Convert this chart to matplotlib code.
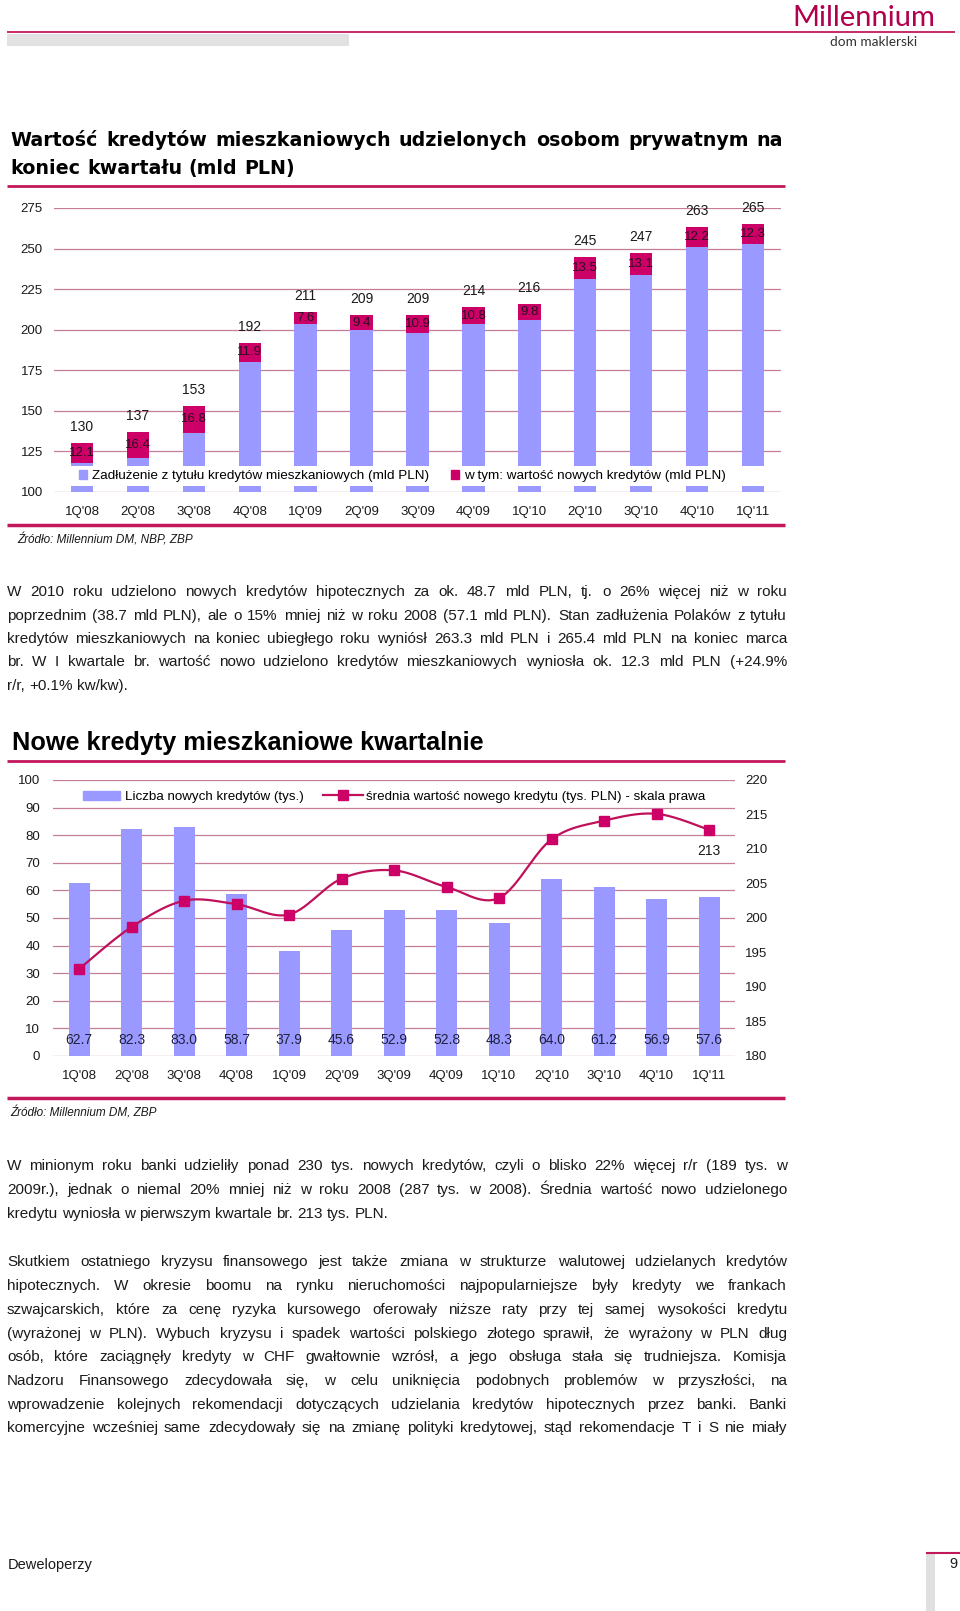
import matplotlib
matplotlib.use("Agg")
import matplotlib.pyplot as plt
import numpy as np
from matplotlib.patches import Rectangle, Patch
from matplotlib.lines import Line2D

# ---------------- data ----------------
quarters = ["1Q'08", "2Q'08", "3Q'08", "4Q'08", "1Q'09", "2Q'09", "3Q'09",
            "4Q'09", "1Q'10", "2Q'10", "3Q'10", "4Q'10", "1Q'11"]
debt_total = [130, 137, 153, 192, 211, 209, 209, 214, 216, 245, 247, 263, 265]
new_value = [12.1, 16.4, 16.8, 11.9, 7.6, 9.4, 10.9, 10.8, 9.8, 13.5, 13.1, 12.2, 12.3]
loan_count = [62.7, 82.3, 83.0, 58.7, 37.9, 45.6, 52.9, 52.8, 48.3, 64.0, 61.2, 56.9, 57.6]
avg_value = [192.6, 198.7, 202.5, 202.0, 200.5, 205.7, 206.9, 204.5, 202.9,
             211.4, 214.1, 215.1, 212.8]
top_yticks = [100, 125, 150, 175, 200, 225, 250, 275]
left_yticks = [0, 10, 20, 30, 40, 50, 60, 70, 80, 90, 100]
right_yticks = [180, 185, 190, 195, 200, 205, 210, 215, 220]

# ---------------- style ----------------
FONT = "Liberation Sans"
PURPLE = "#9999ff"
MAGENTA = "#cc0066"
LINECOL = "#c0105a"
GRID = "#c77c9a"
RULE = "#c2185b"
TXT = "#1a1a1a"

W, H = 960, 1611
def fx(x): return x / W
def fy(y): return 1 - y / H

fig = plt.figure(figsize=(9.6, 16.11), dpi=100)
fig.patch.set_facecolor("white")
renderer = fig.canvas.get_renderer()

def hline(x0, x1, y, color=RULE, lw=1.5):
    fig.add_artist(Line2D([fx(x0), fx(x1)], [fy(y), fy(y)],
                          transform=fig.transFigure, color=color, lw=lw,
                          solid_capstyle="butt"))

def put_line(text, y, x0, x1=None, justify=True, **kw):
    # y is the visual centre of capitals; convert to an integer-pixel baseline
    fs_px = kw.get("fontsize", 10) * 100 / 72
    yb = float(round(y + 0.36 * fs_px))
    words = text.split(" ")
    arts = [fig.text(0, fy(yb), w, va="baseline", ha="left", **kw) for w in words]
    widths = [a.get_window_extent(renderer).width for a in arts]
    if justify and len(words) > 1 and x1 is not None:
        gap = (x1 - x0 - sum(widths)) / (len(words) - 1)
    else:
        t1 = fig.text(0, 0, "a a", **kw)
        t2 = fig.text(0, 0, "aa", **kw)
        gap = t1.get_window_extent(renderer).width - t2.get_window_extent(renderer).width
        t1.remove(); t2.remove()
    x = x0
    for a, w in zip(arts, widths):
        a.set_x(fx(round(x)))
        x += w + gap

# ---------------- header ----------------
hline(7, 955, 32, lw=1.3)
fig.add_artist(Rectangle((fx(7), fy(46)), fx(349) - fx(7), fy(34) - fy(46),
                         transform=fig.transFigure, color="#e2e2e2", lw=0))
fig.text(fx(864), fy(18), "Millennium", ha="center", va="center",
         fontsize=21, color="#b0004e", family="Lato")
fig.text(fx(874), fy(42), "dom maklerski", ha="center", va="center",
         fontsize=9.8, color="#333333", family="Lato")

# ---------------- title 1 ----------------
tkw = dict(fontsize=13.7, fontweight="bold", family="DejaVu Sans", color="black")
put_line("Wartość kredytów mieszkaniowych udzielonych osobom prywatnym na",
         139, 10, 783, **tkw)
put_line("koniec kwartału (mld PLN)", 167, 10, justify=False, **tkw)
hline(7, 785, 186, lw=2)

# ---------------- chart 1 ----------------
ax1 = fig.add_axes([fx(54), fy(491.7), fx(781) - fx(54), fy(208) - fy(491.7)])
x = np.arange(len(quarters))
base = [t - n for t, n in zip(debt_total, new_value)]
ax1.bar(x, base, width=0.4, color=PURPLE, zorder=2)
ax1.bar(x, new_value, bottom=base, width=0.4, color=MAGENTA, zorder=2)
ax1.set_xlim(-0.5, len(quarters) - 0.5)
ax1.set_ylim(100, 275)
ax1.set_yticks(top_yticks)
ax1.set_xticks(x)
ax1.set_xticklabels(quarters)
ax1.grid(axis="y", color=GRID, lw=0.9, zorder=0)
ax1.set_axisbelow(True)
for s in ax1.spines.values():
    s.set_visible(False)
ax1.tick_params(axis="both", length=0, labelsize=9.5, colors=TXT)
ax1.tick_params(axis="y", pad=8)
ax1.tick_params(axis="x", pad=10)
for lab in ax1.get_xticklabels() + ax1.get_yticklabels():
    lab.set_family(FONT)
for xi, t, b, n in zip(x, debt_total, base, new_value):
    ax1.annotate(f"{t}", (xi, t), xytext=(0, 11.5), textcoords="offset points",
                 ha="center", va="center", fontsize=10, family=FONT, color=TXT)
    ax1.text(xi, b + n / 2, f"{n:.1f}", ha="center", va="center",
             fontsize=9.5, family=FONT, color="#2a1020", zorder=4)
ax1.add_patch(Rectangle((0, 0.02), 1, 0.0706, transform=ax1.transAxes,
                        color="white", lw=0, zorder=3))
leg_a = ax1.legend(handles=[Patch(color=PURPLE, label="Zadłużenie z tytułu kredytów mieszkaniowych (mld PLN)")],
                   loc="center left", bbox_to_anchor=((79 - 54) / 727, 0.055),
                   frameon=False, borderpad=0, borderaxespad=0,
                   handlelength=0.6, handleheight=0.6, handletextpad=0.35,
                   prop=dict(family=FONT, size=9.7))
ax1.add_artist(leg_a)
ax1.legend(handles=[Patch(color=MAGENTA, label="w tym: wartość nowych kredytów (mld PLN)")],
           loc="center left", bbox_to_anchor=((451 - 54) / 727, 0.055),
           frameon=False, borderpad=0, borderaxespad=0,
           handlelength=0.6, handleheight=0.6, handletextpad=0.35,
           prop=dict(family=FONT, size=9.7))

hline(7, 785, 525, lw=2.5)
fig.text(fx(17), fy(540), "Źródło: Millennium DM, NBP, ZBP", ha="left", va="center",
         fontsize=8.5, style="italic", family=FONT, color=TXT)

# ---------------- paragraph 1 ----------------
pkw = dict(fontsize=11, family=FONT, color=TXT)
p1 = ["W 2010 roku udzielono nowych kredytów hipotecznych za ok. 48.7 mld PLN, tj. o 26% więcej niż w roku",
      "poprzednim (38.7 mld PLN), ale o 15% mniej niż w roku 2008 (57.1 mld PLN). Stan zadłużenia Polaków z tytułu",
      "kredytów mieszkaniowych na koniec ubiegłego roku wyniósł 263.3 mld PLN i 265.4 mld PLN na koniec marca",
      "br. W I kwartale br. wartość nowo udzielono kredytów mieszkaniowych wyniosła ok. 12.3 mld PLN (+24.9%",
      "r/r, +0.1% kw/kw)."]
for i, line in enumerate(p1):
    last = i == len(p1) - 1
    put_line(line, 590.7 + i * 23.4, 7, 787, justify=not last, **pkw)

# ---------------- title 2 ----------------
fig.text(fx(12), fy(743), "Nowe kredyty mieszkaniowe kwartalnie", ha="left", va="center",
         fontsize=18.2, fontweight="bold", family=FONT, color="black")
hline(7, 785, 761, lw=2)

# ---------------- chart 2 ----------------
ax2 = fig.add_axes([fx(52.75), fy(1056), fx(735.25) - fx(52.75), fy(780) - fy(1056)])
ax2.bar(x, loan_count, width=0.4, color=PURPLE, zorder=2)
ax2.set_xlim(-0.5, len(quarters) - 0.5)
ax2.set_ylim(0, 100)
ax2.set_yticks(left_yticks)
ax2.set_xticks(x)
ax2.set_xticklabels(quarters)
ax2.grid(axis="y", color=GRID, lw=0.9, zorder=0)
ax2.set_axisbelow(True)
for s in ax2.spines.values():
    s.set_visible(False)
ax2.tick_params(axis="both", length=0, labelsize=9.5, colors=TXT)
ax2.tick_params(axis="y", pad=9)
ax2.tick_params(axis="x", pad=10)
for lab in ax2.get_xticklabels() + ax2.get_yticklabels():
    lab.set_family(FONT)
for xi, v in zip(x, loan_count):
    ax2.text(xi, 0.058, f"{v:.1f}", transform=ax2.get_xaxis_transform(),
             ha="center", va="center", fontsize=10, family=FONT, color="#202040", zorder=4)

ax3 = ax2.twinx()
ax3.set_ylim(180, 220)
ax3.set_yticks(right_yticks)
for s in ax3.spines.values():
    s.set_visible(False)
ax3.tick_params(axis="y", length=0, labelsize=9.5, colors=TXT, pad=7)
for lab in ax3.get_yticklabels():
    lab.set_family(FONT)

# smooth (Excel-like) curve through the points
px = np.asarray(x, dtype=float)
py = np.asarray(avg_value, dtype=float)
P = np.column_stack([px, py])
Pext = np.vstack([P[0], P, P[-1]])
curve = []
for i in range(len(P) - 1):
    p0, p1, p2, p3 = Pext[i], Pext[i + 1], Pext[i + 2], Pext[i + 3]
    c1 = p1 + (p2 - p0) / 6
    c2 = p2 - (p3 - p1) / 6
    t = np.linspace(0, 1, 30)[:, None]
    seg = ((1 - t) ** 3) * p1 + 3 * ((1 - t) ** 2) * t * c1 + 3 * (1 - t) * t ** 2 * c2 + t ** 3 * p2
    curve.append(seg if i == 0 else seg[1:])
curve = np.vstack(curve)
ax3.plot(curve[:, 0], curve[:, 1], color=LINECOL, lw=1.6, zorder=3)
ax3.plot(px, py, ls="none", marker="s", ms=6.5, color=MAGENTA, zorder=4)
ax3.annotate(f"{avg_value[-1]:.0f}", (px[-1], py[-1]), xytext=(0, -15),
             textcoords="offset points", ha="center", va="center",
             fontsize=10, family=FONT, color=TXT)

leg_b = ax3.legend(handles=[Patch(color=PURPLE, label="Liczba nowych kredytów (tys.)")],
                   loc="center left", bbox_to_anchor=((83 - 52.75) / 682.5, 0.9395),
                   frameon=False, borderpad=0, borderaxespad=0,
                   handlelength=2.75, handleheight=0.68, handletextpad=0.38,
                   prop=dict(family=FONT, size=9.6))
ax3.add_artist(leg_b)
ax3.legend(handles=[Line2D([], [], color=LINECOL, lw=1.6, marker="s", ms=6.5,
                           markerfacecolor=MAGENTA, markeredgecolor=MAGENTA,
                           label="średnia wartość nowego kredytu (tys. PLN) - skala prawa")],
           loc="center left", bbox_to_anchor=((323 - 52.75) / 682.5, 0.9395),
           frameon=False, borderpad=0, borderaxespad=0,
           handlelength=3.0, handletextpad=0.25,
           prop=dict(family=FONT, size=9.6))

hline(7, 785, 1098, lw=2.5)
fig.text(fx(10), fy(1112.7), "Źródło: Millennium DM, ZBP", ha="left", va="center",
         fontsize=8.5, style="italic", family=FONT, color=TXT)

# ---------------- paragraphs 2 & 3 ----------------
p2 = ["W minionym roku banki udzieliły ponad 230 tys. nowych kredytów, czyli o blisko 22% więcej r/r (189 tys. w",
      "2009r.), jednak o niemal 20% mniej niż w roku 2008 (287 tys. w 2008). Średnia wartość nowo udzielonego",
      "kredytu wyniosła w pierwszym kwartale br. 213 tys. PLN."]
for i, line in enumerate(p2):
    last = i == len(p2) - 1
    put_line(line, 1165 + i * 23.6, 7, 787, justify=not last, **pkw)

p3 = ["Skutkiem ostatniego kryzysu finansowego jest także zmiana w strukturze walutowej udzielanych kredytów",
      "hipotecznych. W okresie boomu na rynku nieruchomości najpopularniejsze były kredyty we frankach",
      "szwajcarskich, które za cenę ryzyka kursowego oferowały niższe raty przy tej samej wysokości kredytu",
      "(wyrażonej w PLN). Wybuch kryzysu i spadek wartości polskiego złotego sprawił, że wyrażony w PLN dług",
      "osób, które zaciągnęły kredyty w CHF gwałtownie wzrósł, a jego obsługa stała się trudniejsza. Komisja",
      "Nadzoru Finansowego zdecydowała się, w celu uniknięcia podobnych problemów w przyszłości, na",
      "wprowadzenie kolejnych rekomendacji dotyczących udzielania kredytów hipotecznych przez banki. Banki",
      "komercyjne wcześniej same zdecydowały się na zmianę polityki kredytowej, stąd rekomendacje T i S nie miały"]
for i, line in enumerate(p3):
    put_line(line, 1261 + i * 23.7, 7, 787, justify=True, **pkw)

# ---------------- footer ----------------
fig.text(fx(8), fy(1565), "Deweloperzy", ha="left", va="center",
         fontsize=10.5, family=FONT, color=TXT)
hline(926, 960, 1553, lw=1.5)
fig.add_artist(Rectangle((fx(926), fy(1611)), fx(935) - fx(926), fy(1554) - fy(1611),
                         transform=fig.transFigure, color="#e0e0e0", lw=0))
fig.text(fx(953), fy(1564), "9", ha="center", va="center",
         fontsize=10.5, family=FONT, color=TXT)

fig.savefig("out.png", dpi=100, facecolor="white")
